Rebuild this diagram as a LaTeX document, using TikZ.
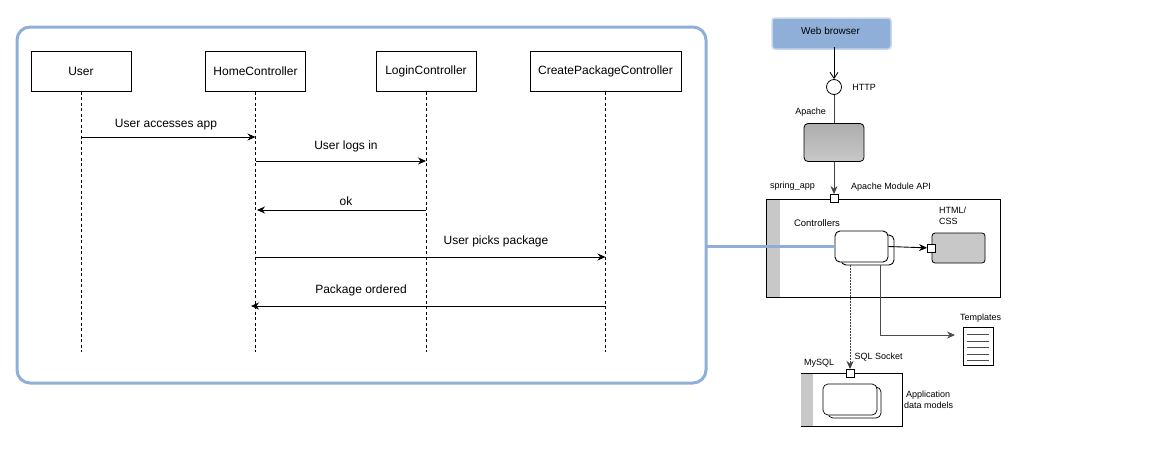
\documentclass[tikz,border=0pt]{standalone}
\usepackage{fontspec}
\setmainfont{Liberation Sans}
\usetikzlibrary{arrows.meta}
\definecolor{paleblue}{HTML}{8FAFD9}
\definecolor{palegray}{HTML}{C8C8C8}
\tikzset{
  actor/.style={draw, line width=1pt, minimum height=40pt, font=\fontsize{12}{14}\selectfont},
  lifeline/.style={line width=0.8pt, dash pattern=on 3pt off 2.5pt},
  tip/.style={-{Stealth[length=8pt, width=7pt]}},
  msg/.style={tip, line width=0.9pt},
  msglabel/.style={font=\fontsize{12}{14}\selectfont},
  small/.style={font=\fontsize{9}{11}\selectfont, align=left, inner sep=0pt},
  port/.style={draw, fill=white, line width=0.8pt, minimum size=8pt, inner sep=0pt},
  card/.style={draw, fill=white, rounded corners=5pt, line width=0.9pt, inner sep=0pt},
  band/.style={fill=palegray, inner sep=0pt},
  frame/.style={draw, line width=1pt, inner sep=0pt}
}
\begin{document}
\begin{tikzpicture}[x=1pt, y=-1pt]
\useasboundingbox (0,0) rectangle (1150,453);
% sequence part
\node[draw=paleblue, line width=3pt, rounded corners=13pt, minimum width=689pt, minimum height=356pt] (seqframe) at (361.5,205) {};
\node[actor, minimum width=100pt] (user) at (81,71) {User};
\node[actor, minimum width=100pt] (home) at (255.5,71) {HomeController};
\node[actor, minimum width=100pt] (login) at (426,71) {LoginController};
\node[actor, minimum width=151pt] (create) at (605.5,71) {CreatePackageController};
\coordinate (userend) at (81,352);
\coordinate (homeend) at (255.5,352);
\coordinate (loginend) at (426,352);
\coordinate (createend) at (605.5,352);
\draw[lifeline] (user) -- (userend);
\draw[lifeline] (home) -- (homeend);
\draw[lifeline] (login) -- (loginend);
\draw[lifeline] (create) -- (createend);
\coordinate (ma) at (81,137);
\coordinate (mb) at (255.5,137);
\coordinate (mc) at (255.5,161);
\coordinate (md) at (426,161);
\coordinate (me) at (426,210);
\coordinate (mf) at (257,210);
\coordinate (mg) at (255.5,257);
\coordinate (mh) at (605.5,257);
\coordinate (mi) at (605.5,306);
\coordinate (mj) at (251,306);
\draw[msg] (ma) -- (mb);
\draw[msg] (mc) -- (md);
\draw[msg] (me) -- (mf);
\draw[msg] (mg) -- (mh);
\draw[msg] (mi) -- (mj);
\node[msglabel] (la) at (166,125) {User accesses app};
\node[msglabel] (lb) at (346,146) {User logs in};
\node[msglabel] (lc) at (346,201) {ok};
\node[msglabel] (ld) at (496,241) {User picks package};
\node[msglabel] (le) at (361,290) {Package ordered};
% component part
\node[fill=paleblue, draw=paleblue!50, line width=1.5pt, rounded corners=3pt, minimum width=119pt, minimum height=31pt, inner sep=0pt] (browser) at (831.5,33.5) {};
\node[small, font=\fontsize{10}{12}\selectfont] (browsertext) at (830.5,31) {Web browser};
\node[draw, circle, fill=white, line width=0.8pt, minimum size=15pt, inner sep=0pt] (http) at (834,87) {};
\node[draw, rounded corners=4pt, top color=black!32, bottom color=palegray, line width=0.8pt, minimum width=60pt, minimum height=38pt, inner sep=0pt] (apache) at (834,142.5) {};
\node[frame, minimum width=234pt, minimum height=98pt] (springapp) at (883,248) {};
\node[band, minimum width=13pt, minimum height=97pt] (springband) at (773,248) {};
\node[port] (apiport) at (834,198.5) {};
\coordinate (browserout) at (834,47);
\draw[-{Straight Barb[length=6pt, width=8pt]}, line width=0.9pt] (browserout) -- (http);
\draw[line width=0.9pt, black!75] (http) -- (apache);
\draw[tip, line width=0.9pt, black!75] (apache) -- (apiport);
\node[card, minimum width=53pt, minimum height=30pt] (ctrlback) at (867.5,250) {};
\node[card, minimum width=53pt, minimum height=31pt] (ctrl) at (861.5,246.5) {};
\coordinate (seqexit) at (706,246);
\draw[line width=3pt, paleblue] (seqexit) -- (ctrl.west |- seqexit);
\node[draw, fill=palegray, rounded corners=3pt, line width=0.8pt, minimum width=53pt, minimum height=30pt, inner sep=0pt] (html) at (958.5,248) {};
\node[port] (htmlport) at (931.5,248) {};
\draw[tip, line width=0.9pt] (ctrl.east) -- (htmlport);
\node[frame, minimum width=101pt, minimum height=53pt, line width=0.9pt] (mysql) at (851.5,399.5) {};
\node[band, minimum width=12pt, minimum height=52pt] (mysqlband) at (807,399.5) {};
\node[port] (sqlport) at (850,373) {};
\node[card, minimum width=53pt, minimum height=31pt, line width=0.7pt] (modelback) at (854.5,402.5) {};
\node[card, minimum width=54pt, minimum height=31pt, line width=0.7pt] (model) at (850,399.5) {};
\coordinate (ctrlsql) at (850,265);
\coordinate (sqlin) at (850,369);
\draw[tip, line width=0.9pt, black!75, dash pattern=on 1.5pt off 1.5pt] (ctrlsql) -- (sqlin);
\node[draw, line width=0.8pt, minimum width=30pt, minimum height=38pt, inner sep=0pt] (doc) at (978,346) {};
\foreach \y in {334,341,347.5,354,360}
  \draw[line width=0.8pt, black!70] (967,\y) -- (989,\y);
\coordinate (tplout) at (880,265);
\coordinate (tplin) at (955,335);
\draw[tip, line width=0.9pt, black!70] (tplout) |- (tplin);
\node[small] (lhttp) at (864,87) {HTTP};
\node[small] (lapache) at (810.5,112) {Apache};
\node[small] (lspring) at (792.5,186) {spring\_app};
\node[small] (lapi) at (891,187) {Apache Module API};
\node[small, font=\fontsize{9.5}{11}\selectfont] (lctrl) at (817,223.5) {Controllers};
\node[small] (lhtml) at (939,216) [anchor=west] {HTML/\\CSS};
\node[small] (ltpl) at (980.5,318) {Templates};
\node[small] (lsql) at (878.5,357) {SQL Socket};
\node[small] (lmy) at (819,363) {MySQL};
\node[small, align=left, anchor=west] (lapp) at (904,400) {\hspace{2pt}Application\\data models};
\end{tikzpicture}
\end{document}
